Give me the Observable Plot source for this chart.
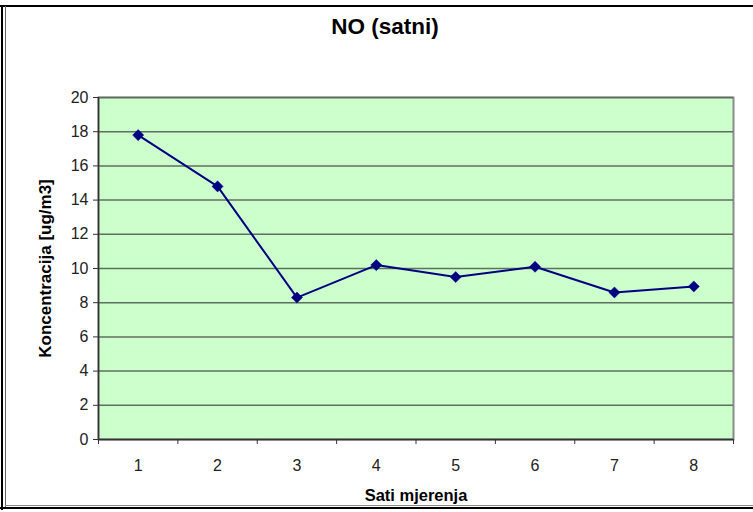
<!DOCTYPE html>
<html><head><meta charset="utf-8">
<script src="https://cdn.jsdelivr.net/npm/d3@7"></script>
<script src="https://cdn.jsdelivr.net/npm/@observablehq/plot@0.6"></script>
<style>
body{margin:0;background:#fff;}
#wrap{position:relative;width:753px;height:512px;overflow:hidden;font-family:"Liberation Sans",Arial,sans-serif;}
#title{position:absolute;left:0;width:770px;top:14px;text-align:center;font-weight:bold;font-size:22.5px;color:#000;}
#chart{position:absolute;left:0;top:0;}
.b{position:absolute;background:#000;}
g[aria-label="x-axis label"] text{font-weight:bold;font-size:16.5px;fill:#000;}
g[aria-label="y-axis label"] text{font-weight:bold;font-size:17px;fill:#000;}
</style>
</head><body>
<div id="wrap">
<div id="chart"></div>
<div id="title">NO (satni)</div>
<div class="b" style="left:0;top:5px;width:753px;height:2px;"></div>
<div class="b" style="left:1px;top:5px;width:2px;height:505px;"></div>
<div class="b" style="left:5px;top:6px;width:1px;height:502px;background:#666;"></div>
<div class="b" style="left:0;top:507px;width:753px;height:2px;"></div>
<div class="b" style="left:5px;top:505px;width:748px;height:1px;background:#888;"></div>
</div>
<script>
const hours = [1, 2, 3, 4, 5, 6, 7, 8];
const values = [17.8, 14.8, 8.3, 10.2, 9.5, 10.1, 8.6, 8.95];
const yTicks = [0, 2, 4, 6, 8, 10, 12, 14, 16, 18, 20];
const title = "NO (satni)";
const xLabel = "Sati mjerenja";
const yLabel = "Koncentracija [ug/m3]";

const data = hours.map((h, i) => ({hour: h, value: values[i]}));
const bounds = hours.map(h => h - 0.5).concat([hours[hours.length - 1] + 0.5]);

const chart = Plot.plot({
  width: 753, height: 512,
  marginLeft: 98, marginRight: 20, marginTop: 97, marginBottom: 73,
  x: {domain: [bounds[0], bounds[bounds.length - 1]]},
  y: {domain: [0, 20]},
  style: {fontFamily: '"Liberation Sans", Arial, sans-serif', fontSize: "15px", color: "#222", background: "transparent", overflow: "visible"},
  marks: [
    Plot.frame({fill: "#ccffcc", stroke: "#8a8a8a", strokeWidth: 2}),
    Plot.gridY(yTicks, {stroke: "#5f6f5f", strokeOpacity: 1, strokeWidth: 1.5}),
    Plot.ruleX([bounds[0]], {stroke: "#333", strokeWidth: 1.5}),
    Plot.ruleY([0], {stroke: "#333", strokeWidth: 1.5}),
    Plot.axisY(yTicks, {tickSize: 5, tickPadding: 5, stroke: "#333", fontSize: 16, label: yLabel, labelAnchor: "center", labelArrow: "none", labelOffset: 60}),
    Plot.axisX(bounds, {tickSize: 5, stroke: "#333", tickFormat: () => "", label: null}),
    Plot.axisX(hours, {tickSize: 0, tickPadding: 20, fontSize: 16, label: xLabel, labelAnchor: "center", labelArrow: "none", labelOffset: 61}),
    Plot.line(data, {x: "hour", y: "value", stroke: "#000080", strokeWidth: 2}),
    Plot.dot(data, {x: "hour", y: "value", symbol: "diamond2", r: 5, fill: "#000080", stroke: "#000080", strokeWidth: 0.5})
  ]
});
document.getElementById("chart").appendChild(chart);
document.getElementById("title").textContent = title;
</script>
</body></html>
